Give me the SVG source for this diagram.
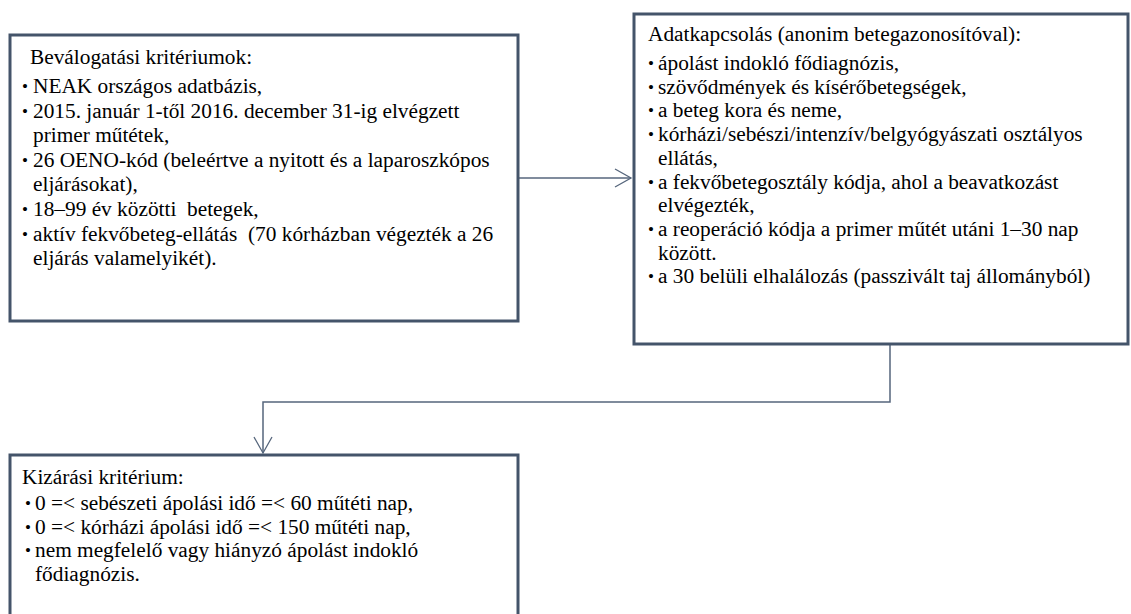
<svg xmlns="http://www.w3.org/2000/svg" width="1131" height="614" viewBox="0 0 1131 614">
<style>
.box{fill:#fff;stroke:#44546a;stroke-width:3}
.t{font-family:'Liberation Serif','Times New Roman',serif;font-size:21.33px;fill:#000}
.b{font-family:'Liberation Serif','Times New Roman',serif;font-size:17px;fill:#000}
.c{fill:none;stroke:#56667c;stroke-width:1.5}
</style>
<defs>
<marker id="ah" markerWidth="22" markerHeight="22" refX="17" refY="10" orient="auto" markerUnits="userSpaceOnUse">
<path d="M1,1 L17,10 L1,19" fill="none" stroke="#56667c" stroke-width="1.3"/>
</marker>
</defs>
<g id="connectors">
<line class="c" x1="519" y1="178" x2="631" y2="178" marker-end="url(#ah)"/>
<polyline class="c" points="890,345 890,402 263,402 263,453" marker-end="url(#ah)"/>
</g>
<g id="node-inclusion">
<rect class="box" x="10" y="35" width="508" height="286"/>
<text class="t" x="30" y="64">Beválogatási kritériumok:</text>
<text class="b" x="22" y="92">•</text><text class="t" x="33" y="93">NEAK országos adatbázis,</text>
<text class="b" x="22" y="116.6">•</text><text class="t" x="33" y="117.6">2015. január 1-től 2016. december 31-ig elvégzett</text>
<text class="t" x="33" y="142.2">primer műtétek,</text>
<text class="b" x="22" y="165.8">•</text><text class="t" x="33" y="166.8">26 OENO-kód (beleértve a nyitott és a laparoszkópos</text>
<text class="t" x="33" y="191.4">eljárásokat),</text>
<text class="b" x="22" y="215">•</text><text class="t" x="33" y="216" xml:space="preserve">18–99 év közötti  betegek,</text>
<text class="b" x="22" y="239.6">•</text><text class="t" x="33" y="240.6" xml:space="preserve">aktív fekvőbeteg-ellátás  (70 kórházban végezték a 26</text>
<text class="t" x="33" y="265.2">eljárás valamelyikét).</text>
</g>
<g id="node-linkage">
<rect class="box" x="634" y="14" width="494" height="330"/>
<text class="t" x="648" y="41">Adatkapcsolás (anonim betegazonosítóval):</text>
<text class="b" x="648" y="69">•</text><text class="t" x="658" y="70">ápolást indokló fődiagnózis,</text>
<text class="b" x="648" y="92.7">•</text><text class="t" x="658" y="93.7">szövődmények és kísérőbetegségek,</text>
<text class="b" x="648" y="116.4">•</text><text class="t" x="658" y="117.4">a beteg kora és neme,</text>
<text class="b" x="648" y="140.1">•</text><text class="t" x="658" y="141.1">kórházi/sebészi/intenzív/belgyógyászati osztályos</text>
<text class="t" x="658" y="164.8">ellátás,</text>
<text class="b" x="648" y="187.5">•</text><text class="t" x="658" y="188.5">a fekvőbetegosztály kódja, ahol a beavatkozást</text>
<text class="t" x="658" y="212.2">elvégezték,</text>
<text class="b" x="648" y="234.9">•</text><text class="t" x="658" y="235.9">a reoperáció kódja a primer műtét utáni 1–30 nap</text>
<text class="t" x="658" y="259.6">között.</text>
<text class="b" x="648" y="282.3">•</text><text class="t" x="658" y="283.3">a 30 belüli elhalálozás (passzivált taj állományból)</text>
</g>
<g id="node-exclusion">
<rect class="box" x="10" y="455" width="508" height="170"/>
<text class="t" x="22" y="484">Kizárási kritérium:</text>
<text class="b" x="25" y="509">•</text><text class="t" x="35" y="510">0 =&lt; sebészeti ápolási idő =&lt; 60 műtéti nap,</text>
<text class="b" x="25" y="532.7">•</text><text class="t" x="35" y="533.7">0 =&lt; kórházi ápolási idő =&lt; 150 műtéti nap,</text>
<text class="b" x="25" y="556.4">•</text><text class="t" x="35" y="557.4">nem megfelelő vagy hiányzó ápolást indokló</text>
<text class="t" x="35" y="581.1">fődiagnózis.</text>
</g>
</svg>
